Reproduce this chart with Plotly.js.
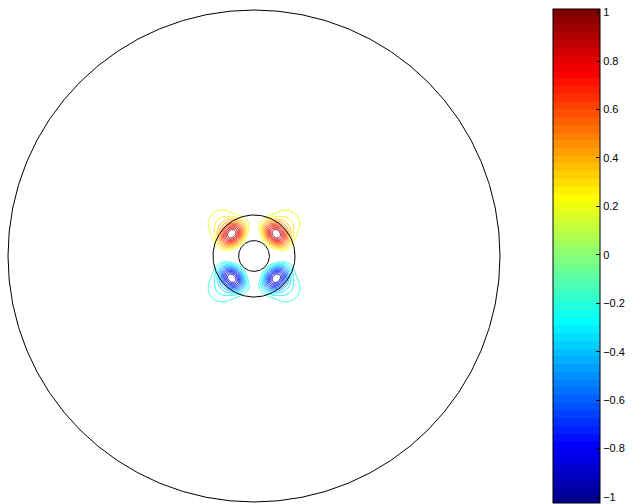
<!DOCTYPE html>
<html><head><meta charset="utf-8">
<script src="https://cdn.plot.ly/plotly-3.0.1.min.js"></script>
<style>html,body{margin:0;padding:0;background:#fff}#chart{width:637px;height:504px}</style>
</head><body><div id="chart"></div>
<script>
// ---- data (units: big circle radius = 6) ----
const circleRadii = [6, 1, 0.375];
const circleVertices = [64, 160, 120];

const lobeAngleDeg   = [45, 135, 225, 315];
const lobeRadius     = [0.77, 0.77, 0.77, 0.77];
const lobePeak       = [1.05, 1.05, -1.05, -1.05];
const lobeSigmaIn    = [0.2, 0.2, 0.2, 0.2];
const lobeSigmaCore  = [0.154, 0.154, 0.154, 0.154];
const lobeSigmaTail  = [0.61, 0.61, 0.61, 0.61];
const lobeTailWeight = [0.35, 0.35, 0.35, 0.35];
const lobeSigmaAngle = [0.335, 0.335, 0.335, 0.335];

const positiveLevels = [0.2, 0.275, 0.35, 0.425, 0.5, 0.575, 0.65, 0.725, 0.8, 0.875, 0.95];
const negativeLevels = [-0.2, -0.275, -0.35, -0.425, -0.5, -0.575, -0.65, -0.725, -0.8, -0.875, -0.95];

const colorMin = -1.025, colorMax = 1.014;
const colorbarTicks  = [-1, -0.8, -0.6, -0.4, -0.2, 0, 0.2, 0.4, 0.6, 0.8, 1];
const colorbarLabels = ["\u22121", "\u22120.8", "\u22120.6", "\u22120.4", "\u22120.2", "0", "0.2", "0.4", "0.6", "0.8", "1"];

// ---- jet colormap (64 steps, MATLAB style) ----
function jet(m){
  const n = Math.ceil(m/4);
  const u = [];
  for (let i=1;i<=n;i++) u.push(i/n);
  for (let i=1;i<n;i++) u.push(1);
  for (let i=n;i>=1;i--) u.push(i/n);
  const g0 = Math.ceil(n/2) - (m%4===1?1:0);
  const cols = Array.from({length:m}, ()=>[0,0,0]);
  for (let k=0;k<u.length;k++){
    const g=g0+k+1, r=g+n, b=g-n;
    if (r>=1&&r<=m) cols[r-1][0]=u[k];
    if (g>=1&&g<=m) cols[g-1][1]=u[k];
    if (b>=1&&b<=m) cols[b-1][2]=u[k];
  }
  return cols.map(c=>`rgb(${Math.round(c[0]*255)},${Math.round(c[1]*255)},${Math.round(c[2]*255)})`);
}
const JET = jet(64);
const jetScale = [];
JET.forEach((c,i)=>{ jetScale.push([i/64, c]); jetScale.push([(i+1)/64, c]); });
function colorFor(v){ let i=Math.floor((v-colorMin)/(colorMax-colorMin)*64); i=Math.max(0,Math.min(63,i)); return JET[i]; }

// ---- field grid built from the lobe parameters ----
const gx=[], gy=[];
for (let i=0;i<=150;i++){ gx.push(-1.875+i*0.025); gy.push(-1.875+i*0.025); }
const z = gy.map(y => gx.map(x => {
  const r = Math.hypot(x,y), th = Math.atan2(y,x);
  let s = 0;
  for (let k=0;k<lobePeak.length;k++){
    let dth = th - lobeAngleDeg[k]*Math.PI/180;
    dth = Math.atan2(Math.sin(dth), Math.cos(dth));
    const d = r - lobeRadius[k];
    let g;
    if (d < 0) g = Math.exp(-d*d/(2*lobeSigmaIn[k]**2));
    else g = (1-lobeTailWeight[k])*Math.exp(-d*d/(2*lobeSigmaCore[k]**2)) + lobeTailWeight[k]*Math.exp(-d*d/(2*lobeSigmaTail[k]**2));
    s += lobePeak[k]*g*Math.exp(-dth*dth/(2*lobeSigmaAngle[k]**2));
  }
  return s;
}));

const traces = [];
positiveLevels.concat(negativeLevels).forEach(L => {
  traces.push({type:'contour', x:gx, y:gy, z:z, autocontour:false,
    contours:{start:L, end:L+0.0001, size:1, coloring:'none'},
    line:{color:colorFor(L), width:1, smoothing:0.6}, showscale:false, hoverinfo:'skip'});
});

circleRadii.forEach((R,j)=>{
  const n=circleVertices[j], xs=[], ys=[];
  for (let i=0;i<=n;i++){ const a=2*Math.PI*i/n; xs.push(R*Math.cos(a)); ys.push(R*Math.sin(a)); }
  traces.push({type:'scatter', mode:'lines', x:xs, y:ys, line:{color:'#000', width:1}, hoverinfo:'skip'});
});

// colorbar geometry (pixels)
const W=637, H=504, cbLeft=553, cbTop=9.3, cbBottom=503, cbThick=47;
const cbLen = cbBottom-cbTop;
traces.push({type:'scatter', mode:'markers', x:[null], y:[null], hoverinfo:'skip',
  marker:{color:[0], cmin:colorMin, cmax:colorMax, colorscale:jetScale, showscale:true,
    colorbar:{x:cbLeft/W, xanchor:'left', y:1-(cbTop+cbLen/2)/H, yanchor:'middle', len:cbLen, lenmode:'pixels',
      thickness:cbThick, thicknessmode:'pixels', outlinecolor:'#000', outlinewidth:1, xpad:0, ypad:0,
      ticks:'inside', ticklen:4, tickcolor:'#000', tickvals:colorbarTicks, ticktext:colorbarLabels,
      tickfont:{family:'Liberation Sans, Arial, sans-serif', size:11, color:'#000'}}}});

// left-side inner tick marks of the colorbar
const shapes = colorbarTicks.map(v => {
  const py = cbBottom - (v-colorMin)/(colorMax-colorMin)*cbLen;
  return {type:'line', xref:'paper', yref:'paper', x0:cbLeft/W, x1:(cbLeft+4)/W, y0:1-py/H, y1:1-py/H, line:{color:'#000', width:1}};
});

const layout = {
  width:W, height:H, margin:{l:0,r:0,t:0,b:0, autoexpand:false},
  paper_bgcolor:'#fff', plot_bgcolor:'#fff', showlegend:false, shapes:shapes,
  xaxis:{range:[-6.195, 9.341], visible:false, domain:[0,1]},
  yaxis:{range:[-6.049, 6.244], visible:false, domain:[0,1]}
};
Plotly.newPlot('chart', traces, layout, {displayModeBar:false, staticPlot:true});
</script></body></html>
